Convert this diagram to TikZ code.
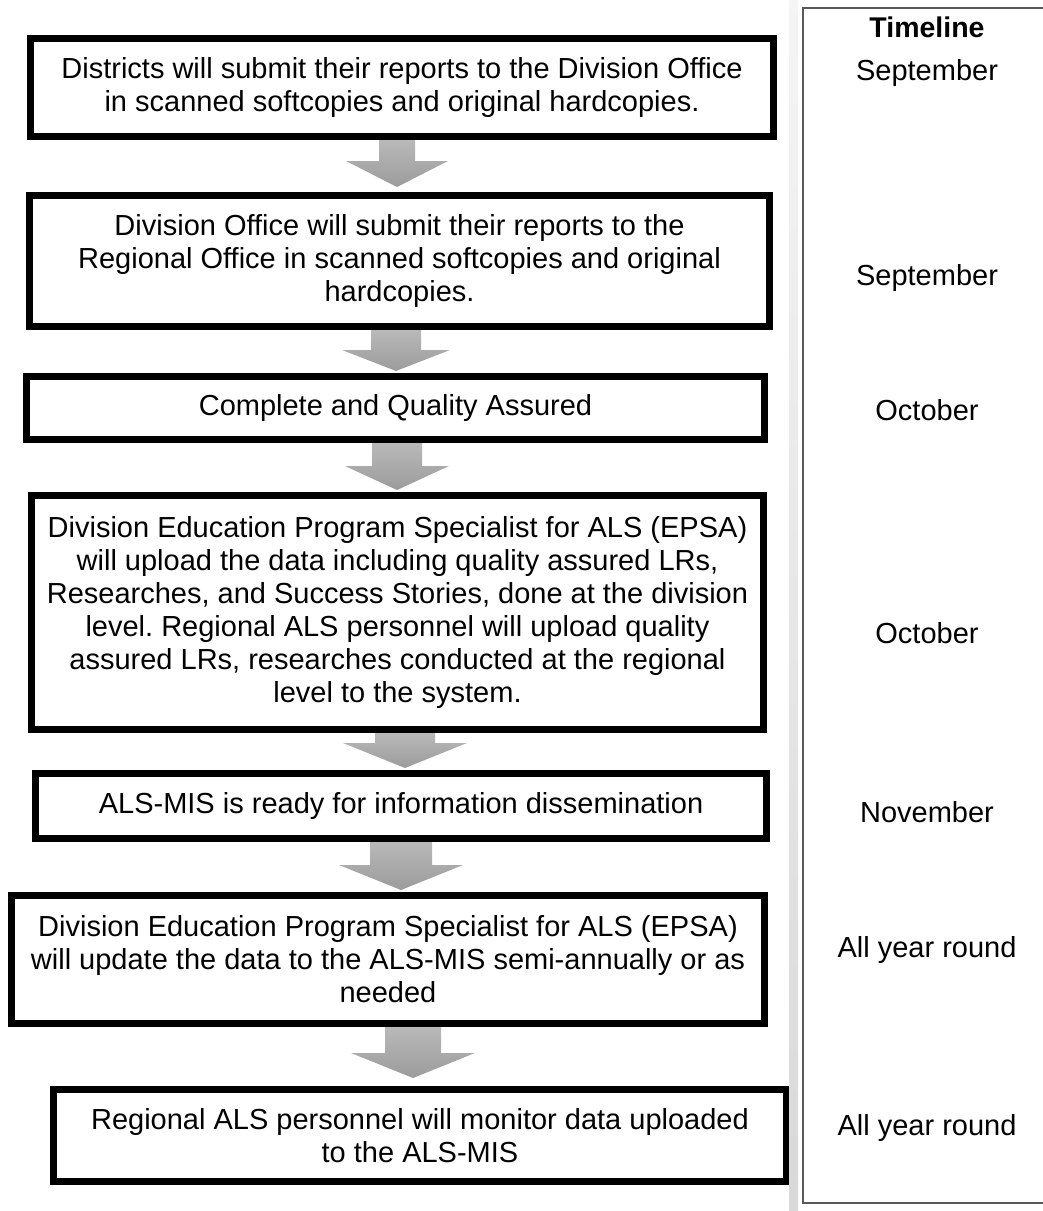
\documentclass[tikz,border=0pt]{standalone}
\usepackage{fontspec}
\setmainfont{Liberation Sans}
\usetikzlibrary{positioning,calc}
\frenchspacing

\begin{document}
\begin{tikzpicture}[
    x=1pt, y=1pt,
    every node/.style={font=\fontsize{29}{33}\selectfont},
    stepbox/.style={rectangle, draw=black, line width=7pt, fill=white, align=center, inner sep=4pt},
    month/.style={inner sep=0pt},
    tlframe/.style={draw=black!65, line width=1.2pt},
    blockarr/.style n args={4}{draw=none, top color=gray!55, bottom color=gray!78,
        to path={let \p1=(\tikztostart), \p2=(\tikztotarget) in
          (\x1-#1,\y1) -- (\x1+#1,\y1) -- (\x1+#1,\y2+#4+#3) -- (\x1+#2,\y2+#4+#3)
          -- (\x1,\y2+#4) -- (\x1-#2,\y2+#4+#3) -- (\x1-#1,\y2+#4+#3) -- cycle}},
]
\useasboundingbox (0,0) rectangle (1043,-1211);

% flow boxes
\node[stepbox, minimum width=743pt, minimum height=98pt] (b1) at (402,-87.5)
    {Districts will submit their reports to the Division Office\\in scanned softcopies and original hardcopies.};
\node[stepbox, minimum width=740pt, minimum height=131pt, below=52pt of b1, xshift=-2.5pt] (b2)
    {Division Office will submit their reports to the\\Regional Office in scanned softcopies and original\\hardcopies.};
\node[stepbox, minimum width=738pt, minimum height=63pt, below=43pt of b2, xshift=-4pt] (b3)
    {Complete and Quality Assured};
\node[stepbox, minimum width=732pt, minimum height=234pt, below=49pt of b3, xshift=2pt] (b4)
    {Division Education Program Specialist for ALS (EPSA)\\will upload the data including quality assured LRs,\\Researches, and Success Stories, done at the division\\level. Regional ALS personnel will upload quality\\assured LRs, researches conducted at the regional\\level to the system.};
\node[stepbox, minimum width=731pt, minimum height=65pt, below=37pt of b4, xshift=3.5pt] (b5)
    {ALS-MIS is ready for information dissemination};
\node[stepbox, minimum width=753pt, minimum height=128pt, below=50pt of b5, xshift=-13pt] (b6)
    {Division Education Program Specialist for ALS (EPSA)\\will update the data to the ALS-MIS semi-annually or as\\needed};
\node[stepbox, minimum width=733pt, minimum height=92pt, below=59pt of b6, xshift=32pt] (b7)
    {Regional ALS personnel will monitor data uploaded\\to the ALS-MIS};

% block arrows
\draw[blockarr={18pt}{51pt}{26pt}{5pt}] ([xshift=-5pt]b1.south) to (b2.north);
\draw[blockarr={25pt}{54pt}{21pt}{2pt}] ([xshift=-3.5pt]b2.south) to (b3.north);
\draw[blockarr={25pt}{52pt}{24pt}{2pt}] ([xshift=1.5pt]b3.south) to (b4.north);
\draw[blockarr={30pt}{62pt}{25pt}{2pt}] ([xshift=7.5pt]b4.south) to (b5.north);
\draw[blockarr={31pt}{62pt}{25pt}{2pt}] (b5.south) to (b6.north);
\draw[blockarr={28pt}{62pt}{25pt}{8pt}] ([xshift=25pt]b6.south) to (b7.north);

% timeline column
\shade[top color=gray!8, bottom color=gray!30] (789,0) rectangle (798,-1211);
\draw[tlframe] (1043,-8) -- (803,-8) -- (803,-1203) -- (1043,-1203);
\node[month, font={\fontsize{28.5}{33}\selectfont\bfseries}] (tlhead) at (927,-27) {Timeline};
\node[month] (m1) at (927,-73) {September};
\node[month] (m2) at (927,-278) {September};
\node[month] (m3) at (927,-410) {October};
\node[month] (m4) at (927,-633) {October};
\node[month] (m5) at (927,-812) {November};
\node[month] (m6) at (927,-950) {All year round};
\node[month] (m7) at (927,-1128) {All year round};
\end{tikzpicture}
\end{document}
